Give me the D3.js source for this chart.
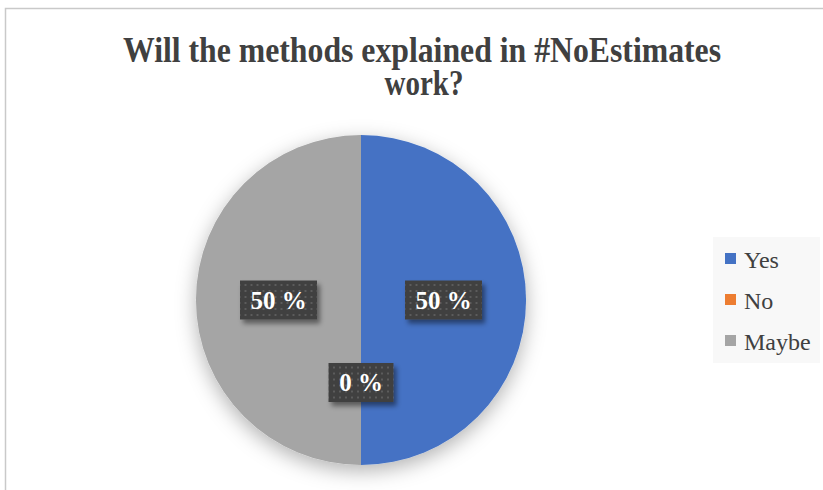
<!DOCTYPE html>
<html>
<head>
<meta charset="utf-8">
<script src="https://cdn.jsdelivr.net/npm/d3@7"></script>
<style>
  html, body { margin: 0; padding: 0; background: #ffffff; }
  svg { display: block; }
</style>
</head>
<body>
<script>
// Survey answers and their shares (percent)
const categories = ["Yes", "No", "Maybe"];
const values = [50, 0, 50];
const colors = ["#4472C4", "#ED7D31", "#A5A5A5"];
const titleLines = ["Will the methods explained in #NoEstimates", "work?"];

const W = 823, H = 490;
const serif = "'Liberation Serif', 'Times New Roman', serif";
const svg = d3.select("body").append("svg").attr("width", W).attr("height", H);
const defs = svg.append("defs");

// soft shadow under the pie
const pieShadow = defs.append("filter").attr("id", "pieShadow")
  .attr("x", "-30%").attr("y", "-30%").attr("width", "160%").attr("height", "160%");
pieShadow.append("feDropShadow").attr("dx", 0).attr("dy", 6)
  .attr("stdDeviation", 10).attr("flood-color", "#000").attr("flood-opacity", 0.3);

// shadow for the value boxes
const boxShadow = defs.append("filter").attr("id", "boxShadow")
  .attr("x", "-30%").attr("y", "-30%").attr("width", "160%").attr("height", "160%");
boxShadow.append("feDropShadow").attr("dx", 3).attr("dy", 4)
  .attr("stdDeviation", 2.5).attr("flood-color", "#000").attr("flood-opacity", 0.45);

// dotted fill for the value boxes
const pat = defs.append("pattern").attr("id", "dots")
  .attr("width", 6).attr("height", 6).attr("patternUnits", "userSpaceOnUse");
pat.append("rect").attr("width", 6).attr("height", 6).attr("fill", "#404040");
pat.append("rect").attr("x", 2).attr("y", 2).attr("width", 2).attr("height", 2).attr("fill", "#5c5c5c");

// chart frame
svg.append("rect").attr("x", 5.5).attr("y", 8.5).attr("width", W + 20).attr("height", H + 20)
  .attr("fill", "#ffffff").attr("stroke", "#c9c9c9").attr("stroke-width", 1.5);

// title
const title = svg.append("g").attr("font-family", serif)
  .attr("font-weight", "bold").attr("fill", "#404040").attr("text-anchor", "middle");
title.append("text").attr("x", 422).attr("y", 62).attr("font-size", 36)
  .attr("textLength", 598).attr("lengthAdjust", "spacingAndGlyphs").text(titleLines[0]);
title.append("text").attr("x", 424).attr("y", 95).attr("font-size", 36)
  .attr("textLength", 79).attr("lengthAdjust", "spacingAndGlyphs").text(titleLines[1]);

// pie
const cx = 361, cy = 300, r = 165;
const data = categories.map((c, i) => ({ name: c, value: values[i], color: colors[i] }));
const pie = d3.pie().sort(null).value(d => d.value);
const arcs = pie(data);
const arc = d3.arc().innerRadius(0).outerRadius(r);

const g = svg.append("g").attr("transform", `translate(${cx},${cy})`);
g.append("g").attr("filter", "url(#pieShadow)")
  .selectAll("path").data(arcs).join("path")
  .attr("d", arc).attr("fill", d => d.data.color);

// value labels in dark boxes at the middle of each slice
const total = d3.sum(values);
const lab = g.selectAll("g.lab").data(arcs).join("g").attr("class", "lab")
  .attr("transform", d => `translate(${arc.centroid(d)})`);
lab.each(function(d) {
  const sel = d3.select(this);
  const txt = Math.round(d.data.value / total * 100) + " %";
  const bw = d.data.value >= 10 ? 77 : 65, bh = 39;
  sel.append("rect").attr("x", -bw / 2).attr("y", -bh / 2).attr("width", bw).attr("height", bh)
    .attr("fill", "url(#dots)").attr("filter", "url(#boxShadow)");
  sel.append("text").attr("y", 8.5).attr("text-anchor", "middle")
    .attr("font-family", serif)
    .attr("font-weight", "bold").attr("font-size", 25).attr("fill", "#ffffff").text(txt);
});

// legend
const legend = svg.append("g");
legend.append("rect").attr("x", 713).attr("y", 237).attr("width", 107).attr("height", 126).attr("fill", "#f8f8f8");
const items = legend.selectAll("g.item").data(data).join("g").attr("class", "item")
  .attr("transform", (d, i) => `translate(725, ${253 + i * 41})`);
items.append("rect").attr("width", 11).attr("height", 11).attr("fill", d => d.color);
items.append("text").attr("x", 19).attr("y", 15)
  .attr("font-family", serif)
  .attr("font-size", 24).attr("fill", "#404040").text(d => d.name);
</script>
</body>
</html>
